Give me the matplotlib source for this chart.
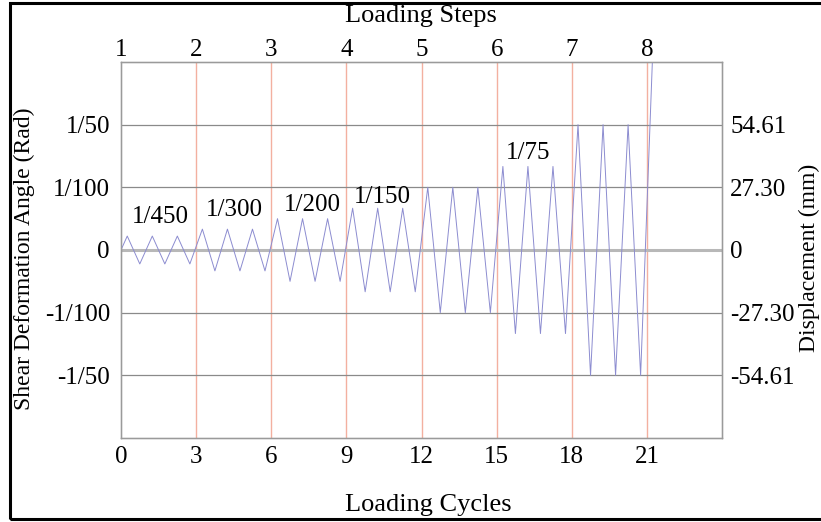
import numpy as np
import matplotlib.pyplot as plt
from matplotlib.patches import Rectangle

plt.rcParams['font.family'] = ['Liberation Serif', 'DejaVu Serif']

# loading protocol: peak drift ratio of each step, 3 cycles per step
step_amp = [1/450, 1/300, 1/200, 1/150, 1/100, 1/75, 1/50]
cycles_per_step = 3
final_peak = 1/30          # start of step 8 (runs off the top)

step_labels = ['1/450', '1/300', '1/200', '1/150', '', '1/75', '']
label_x = [1.56, 4.51, 7.63, 10.42, None, 16.24, None]
label_y = [0.0053, 0.0064, 0.0072, 0.0085, None, 0.0155, None]

yticks = [0.02, 0.01, 0, -0.01, -0.02]
yticklabels = ['1/50', '1/100', '0', '-1/100', '-1/50']
disp_labels = ['54.61', '27.30', '0', '-27.30', '-54.61']
xticks = [0, 3, 6, 9, 12, 15, 18, 21]
step_ticklabels = ['1', '2', '3', '4', '5', '6', '7', '8']

# peak / trough vertices of the triangular history
xs, ys = [0.0], [0.0]
for s, a in enumerate(step_amp):
    for c in range(cycles_per_step):
        n = s * cycles_per_step + c
        xs += [n + 0.25, n + 0.75]
        ys += [a, -a]
xs.append(len(step_amp) * cycles_per_step + 0.25)
ys.append(final_peak)

fig = plt.figure(figsize=(8.21, 5.22), dpi=100)
ax = fig.add_axes([121/821, 1 - 438/522, 601/821, 376/522])

for x in xticks[1:]:
    ax.axvline(x, color='#f3b0a0', lw=1.0, zorder=1)
for y in [0.02, 0.01, -0.01, -0.02]:
    ax.axhline(y, color='#8a8a8a', lw=0.9, zorder=1)
ax.axhline(0, color='#b8b8b8', lw=2.2, zorder=1)

ax.plot(xs, ys, color='#8c8cd0', lw=0.7, zorder=3)

for t, x, y in zip(step_labels, label_x, label_y):
    if t:
        ax.text(x, y, t, fontsize=18, ha='center', va='center')

ax.set_xlim(0, 24)
ax.set_ylim(-0.03, 0.03)
ax.set_xticks(xticks)
ax.set_xticklabels(xticks)
ax.set_yticks(yticks)
ax.set_yticklabels(yticklabels)
ax.tick_params(length=0, labelsize=18, pad=8)
ax.tick_params(axis='x', pad=6)
for sp in ax.spines.values():
    sp.set_color('#9a9a9a')
    sp.set_linewidth(1.0)

axr = ax.twinx()
axr.set_ylim(ax.get_ylim())
axr.set_yticks(yticks)
axr.set_yticklabels(disp_labels)
axr.tick_params(length=0, labelsize=18, pad=6)

axt = ax.twiny()
axt.set_xlim(ax.get_xlim())
axt.set_xticks(xticks)
axt.set_xticklabels(step_ticklabels)
axt.tick_params(length=0, labelsize=18, pad=1)
for a in (axr, axt):
    for sp in a.spines.values():
        sp.set_color('#9a9a9a')

fig.text(421/821, 1 - 16/522, 'Loading Steps', fontsize=19, ha='center', va='center')
fig.text(428/821, 1 - 505/522, 'Loading Cycles', fontsize=19, ha='center', va='center')
fig.text(24/821, 1 - 259/522, 'Shear Deformation Angle (Rad)', fontsize=17,
         rotation=90, ha='center', va='center')
fig.text(809/821, 1 - 258/522, 'Displacement (mm)', fontsize=17,
         rotation=90, ha='center', va='center')

fig.patches.append(Rectangle((10/821, 3/522), 820/821, 516/522, transform=fig.transFigure,
                             fill=False, edgecolor='black', lw=2.2))

fig.savefig('out.png', dpi=100)
